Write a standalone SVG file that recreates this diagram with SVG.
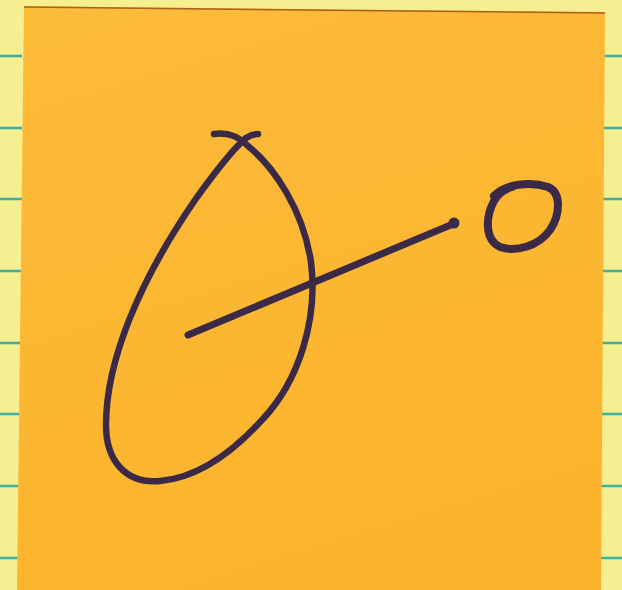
<svg xmlns="http://www.w3.org/2000/svg" width="622" height="590" viewBox="0 0 622 590">
<defs>
<style>
.rule{stroke:#3fae9e;stroke-width:2.5}
.ink{fill:none;stroke:#3b2a47;stroke-linecap:round;stroke-linejoin:round}
</style>
<linearGradient id="note" x1="0" y1="0" x2="0.3" y2="1">
<stop offset="0" stop-color="#fcbb3a"/>
<stop offset="1" stop-color="#fcb42c"/>
</linearGradient>
</defs>
<rect width="622" height="590" fill="#f5ef92"/>
<g id="rules-left">
<line class="rule" x1="0" y1="56" x2="22" y2="56"/>
<line class="rule" x1="0" y1="128" x2="22" y2="128"/>
<line class="rule" x1="0" y1="199" x2="22" y2="199"/>
<line class="rule" x1="0" y1="271" x2="22" y2="271"/>
<line class="rule" x1="0" y1="343" x2="22" y2="343"/>
<line class="rule" x1="0" y1="414" x2="22" y2="414"/>
<line class="rule" x1="0" y1="486" x2="22" y2="486"/>
<line class="rule" x1="0" y1="558" x2="22" y2="558"/>
</g>
<g id="rules-right">
<line class="rule" x1="600" y1="56" x2="622" y2="56"/>
<line class="rule" x1="600" y1="128" x2="622" y2="128"/>
<line class="rule" x1="600" y1="199" x2="622" y2="199"/>
<line class="rule" x1="600" y1="271" x2="622" y2="271"/>
<line class="rule" x1="600" y1="343" x2="622" y2="343"/>
<line class="rule" x1="600" y1="414" x2="622" y2="414"/>
<line class="rule" x1="600" y1="486" x2="622" y2="486"/>
<line class="rule" x1="600" y1="558" x2="622" y2="558"/>
</g>
<g id="note-paper">
<polygon points="24,6 605,12 601,590 17,590" fill="url(#note)"/>
<line x1="24" y1="7" x2="605" y2="13" stroke="#a8621c" stroke-width="1.5"/>
</g>
<g id="ellipse">
<path class="ink" stroke-width="6.5" d="M214,134 C228,132 238,136 248,146 C275,168 303,210 311,262 C318,318 300,380 262,420 C230,455 195,478 160,481 C125,484 106,460 106,425 C106,360 140,280 195,200 C215,172 232,150 246,138 Q252,134 258,134"/>
</g>
<g id="connectors">
<line class="ink" stroke-width="7" x1="188" y1="335" x2="453" y2="224"/>
<circle cx="454" cy="223" r="5.5" fill="#3b2a47"/>
</g>
<g id="point">
<path class="ink" stroke-width="8" d="M494,196 C505,184 530,181 548,187 C562,193 560,215 550,230 C538,247 515,252 500,247 C485,240 485,218 494,201 C498,193 505,189 512,187"/>
</g>
</svg>
